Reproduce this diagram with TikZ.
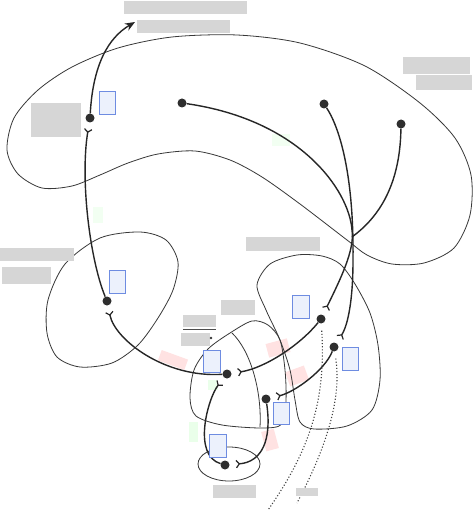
\documentclass[tikz,border=0pt]{standalone}
\usetikzlibrary{arrows.meta}
\definecolor{boxblue}{RGB}{110,140,225}
\definecolor{boxfill}{RGB}{236,241,252}
\definecolor{lbl}{RGB}{214,214,214}
\begin{document}
\begin{tikzpicture}[x=1pt,y=-1pt,
  dot/.style={circle, fill=black!82, inner sep=0pt, minimum size=9pt},
  thinloop/.style={line width=0.8pt, black!78},
  branch/.style={line width=1.4pt, black!85},
  ystart/.style={branch, {Straight Barb[reversed,length=3pt,width=7.5pt,line width=1.2pt]}-, shorten <=6pt},
  dotline/.style={line width=1.1pt, black!75, dotted, shorten <=7pt},
  bbox/.style={draw=boxblue, fill=boxfill, line width=0.8pt, inner sep=0pt, minimum width=16pt, minimum height=23pt},
  glabel/.style={fill=lbl, inner sep=0pt},
  pinkblob/.style={fill=red!45, opacity=0.25, inner sep=0pt},
  greenblob/.style={fill=green!40, opacity=0.2, inner sep=0pt}]
\useasboundingbox (0,0) rectangle (474,510);
\fill[white] (0,0) rectangle (474,510);

% faint colour patches
\node[pinkblob, minimum width=28pt, minimum height=11pt, rotate=-20] (pk1) at (173,360) {};
\node[pinkblob, minimum width=22pt, minimum height=14pt, rotate=15] (pk2) at (278,348) {};
\node[pinkblob, minimum width=20pt, minimum height=15pt, rotate=20] (pk3) at (297,376) {};
\node[pinkblob, minimum width=13pt, minimum height=20pt, rotate=15] (pk4) at (270,440) {};
\node[greenblob, minimum width=9pt, minimum height=20pt] (gr1) at (193,432) {};
\node[greenblob, minimum width=10pt, minimum height=10pt] (gr2) at (213,385) {};
\node[greenblob, minimum width=18pt, minimum height=12pt, opacity=0.12] (gr3) at (281,140) {};
\node[greenblob, minimum width=10pt, minimum height=16pt, opacity=0.12] (gr4) at (98,215) {};

% thin loops
\draw[thinloop] plot[smooth cycle] coordinates {(237,35) (300,43) (365,66) (420,103) (455,138) (471,175) (470,215) (454,248) (424,263) (392,264) (367,255) (347,240) (300,204) (262,177) (230,160) (195,151) (158,154) (128,163) (100,175) (72,186) (42,188) (18,174) (7,150) (14,118) (38,90) (72,67) (118,48) (172,37)};
\draw[thinloop] plot[smooth cycle] coordinates {(140,232) (166,240) (178,262) (173,290) (158,318) (138,345) (112,363) (80,367) (57,357) (47,333) (48,300) (65,264) (100,238)};
\draw[thinloop] plot[smooth cycle] coordinates {(257,285) (270,264) (297,255) (322,256) (340,264) (355,284) (370,313) (378,345) (380,380) (372,410) (347,426) (314,429) (300,422) (295,400) (290,370) (280,340) (266,310)};
\draw[thinloop] plot[smooth cycle] coordinates {(190,398) (194,370) (208,349) (230,333) (252,321) (268,325) (280,340) (285,370) (286,400) (282,424) (262,428) (222,425) (196,416)};
\coordinate (p1) at (232,333);
\coordinate (p2) at (260,427);
\draw[thinloop] (p1) .. controls (250,350) and (262,390) .. (p2);
\draw[thinloop] (229,464) ellipse [x radius=31pt, y radius=17pt];

% dots
\node[dot] (a) at (90,118) {};
\node[dot] (b) at (107,301) {};
\node[dot] (c) at (227,374) {};
\node[dot] (d) at (321,319) {};
\node[dot] (e) at (182,103) {};
\node[dot] (f) at (334,347) {};
\node[dot] (g) at (324,104) {};
\node[dot] (h) at (401,124) {};
\node[dot] (i) at (225,465) {};
\node[dot] (k) at (266,399) {};
\coordinate (t) at (135,22);
\coordinate (j) at (352,237);
\coordinate (m1) at (352,230);
\coordinate (m2) at (353,260);
\coordinate (l1) at (268,510);
\coordinate (l2) at (297,503);

% branches
\draw[branch, -{Stealth[length=10pt,width=8pt]}] (a) .. controls (93,65) and (108,38) .. (t);
\draw[ystart] (a) .. controls (80,180) and (90,260) .. (b);
\draw[ystart] (b) .. controls (115,340) and (165,378) .. (c);
\draw[ystart] (c) .. controls (265,368) and (300,345) .. (d);
\draw[ystart] (d) .. controls (340,280) and (355,250) .. (m1) .. controls (349,190) and (300,120) .. (e);
\draw[ystart] (f) .. controls (348,325) and (353,300) .. (m2) .. controls (354,170) and (338,125) .. (g);
\draw[branch] (h) .. controls (400,190) and (375,220) .. (j);
\draw[ystart] (c) .. controls (208,398) and (192,455) .. (i);
\draw[ystart] (i) .. controls (262,462) and (272,440) .. (k);
\draw[ystart] (k) .. controls (295,392) and (325,370) .. (f);

% dotted
\draw[dotline] (d) .. controls (326,400) and (310,450) .. (l1);
\draw[dotline] (f) .. controls (342,400) and (325,450) .. (l2);

% blue boxes
\node[bbox] (b1) at (107,102.5) {};
\node[bbox] (b2) at (117,281.5) {};
\node[bbox, minimum width=17pt] (b3) at (300.5,306.5) {};
\node[bbox, minimum width=17pt, minimum height=22pt] (b4) at (211.5,361) {};
\node[bbox] (b5) at (350,358.5) {};
\node[bbox, minimum height=22pt] (b6) at (281,413) {};
\node[bbox, minimum width=17pt] (b7) at (217.5,445.5) {};

% blurred labels
\node[glabel, minimum width=123pt, minimum height=13pt] (g1) at (185.5,7.5) {};
\node[glabel, minimum width=93pt, minimum height=13pt] (g2) at (183.5,26.5) {};
\node[glabel, minimum width=50pt, minimum height=34pt] (g3) at (56,120) {};
\node[glabel, minimum width=67pt, minimum height=17pt] (g4) at (436.5,65.5) {};
\node[glabel, minimum width=56pt, minimum height=15pt] (g5) at (444,82.5) {};
\node[glabel, minimum width=74pt, minimum height=13pt] (g6) at (37,254.5) {};
\node[glabel, minimum width=49pt, minimum height=17pt] (g7) at (26.5,275.5) {};
\node[glabel, minimum width=74pt, minimum height=14pt] (g8) at (283,244) {};
\node[glabel, minimum width=34pt, minimum height=15pt] (g9) at (238,307.5) {};
\node[glabel, minimum width=33pt, minimum height=12pt] (g10) at (199.5,321) {};
\draw[black!70, line width=0.8pt] (g10.south west) ++(0,2) -- ++(33,0);
\node[glabel, minimum width=29pt, minimum height=13pt] (g11) at (195.5,339.5) {};
\fill[black!80] (211,338) circle[radius=1.3pt];
\node[glabel, minimum width=43pt, minimum height=13pt] (g12) at (234.5,491.5) {};
\node[glabel, minimum width=22pt, minimum height=8pt] (g13) at (307,492) {};
\end{tikzpicture}
\end{document}
